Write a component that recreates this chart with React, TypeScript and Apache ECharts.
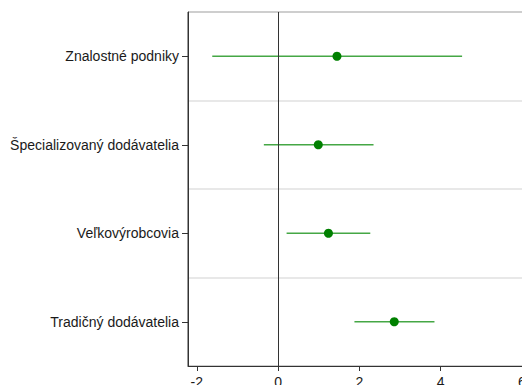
import React, { useEffect, useRef } from "react";
import * as echarts from "echarts";

const categories = [
  "Znalostné podniky",
  "Špecializovaný dodávatelia",
  "Veľkovýrobcovia",
  "Tradičný dodávatelia",
];
const estimates = [1.45, 0.99, 1.24, 2.86];
const lower = [-1.62, -0.35, 0.21, 1.88];
const upper = [4.53, 2.35, 2.27, 3.85];
const xTicks = [-2, 0, 2, 4, 6];

export default function App() {
  const ref = useRef<HTMLDivElement>(null);
  useEffect(() => {
    if (!ref.current) return;
    const chart = echarts.init(ref.current, undefined, { renderer: "svg" });
    const font = "Liberation Sans, Arial, sans-serif";
    chart.setOption({
      animation: false,
      grid: {
        left: 188,
        top: 12,
        right: 26,
        bottom: 34,
        show: true,
        borderColor: "#333",
        borderWidth: 1,
        backgroundColor: "transparent",
      },
      xAxis: {
        type: "value",
        min: -2.217,
        max: 6.3,
        axisLine: { show: true, onZero: false, lineStyle: { color: "#333", width: 1 } },
        axisTick: { show: true, length: 5, lineStyle: { color: "#333" }, customValues: xTicks },
        axisLabel: {
          color: "#1a1a1a",
          fontSize: 14,
          fontFamily: font,
          margin: 9,
          customValues: xTicks,
        },
        splitLine: { show: false },
      },
      yAxis: {
        type: "category",
        data: categories,
        inverse: true,
        boundaryGap: true,
        axisLine: { show: true, onZero: false, lineStyle: { color: "#333", width: 1 } },
        axisTick: { show: true, length: 6, alignWithLabel: true, lineStyle: { color: "#333" } },
        axisLabel: { color: "#1a1a1a", fontSize: 14, fontFamily: font, margin: 9 },
        splitLine: { show: true, lineStyle: { color: "#e0e0e0", width: 1.5 } },
      },
      series: [
        {
          type: "custom",
          data: categories.map((_, i) => [lower[i], upper[i], i]),
          encode: { x: [0, 1], y: 2 },
          renderItem: (params: any, api: any) => {
            const lo = api.value(0);
            const hi = api.value(1);
            const cat = api.value(2);
            const p1 = api.coord([lo, cat]);
            const p2 = api.coord([hi, cat]);
            return {
              type: "line",
              shape: { x1: p1[0], y1: p1[1], x2: p2[0], y2: p2[1] },
              style: { stroke: "#45a745", lineWidth: 1.5 },
            };
          },
          z: 2,
        },
        {
          type: "scatter",
          data: categories.map((c, i) => [estimates[i], c]),
          symbol: "circle",
          symbolSize: 9,
          itemStyle: { color: "#008000", opacity: 1 },
          z: 3,
          markLine: {
            silent: true,
            symbol: "none",
            label: { show: false },
            lineStyle: { color: "#333", width: 1, type: "solid" },
            data: [{ xAxis: 0 }],
          },
        },
      ],
    });
    return () => chart.dispose();
  }, []);
  return (
    <div
      style={{
        position: "fixed",
        left: 0,
        top: 0,
        width: 522,
        height: 385,
        overflow: "hidden",
        background: "#fff",
      }}
    >
      <div ref={ref} style={{ width: 560, height: 400 }} />
    </div>
  );
}
